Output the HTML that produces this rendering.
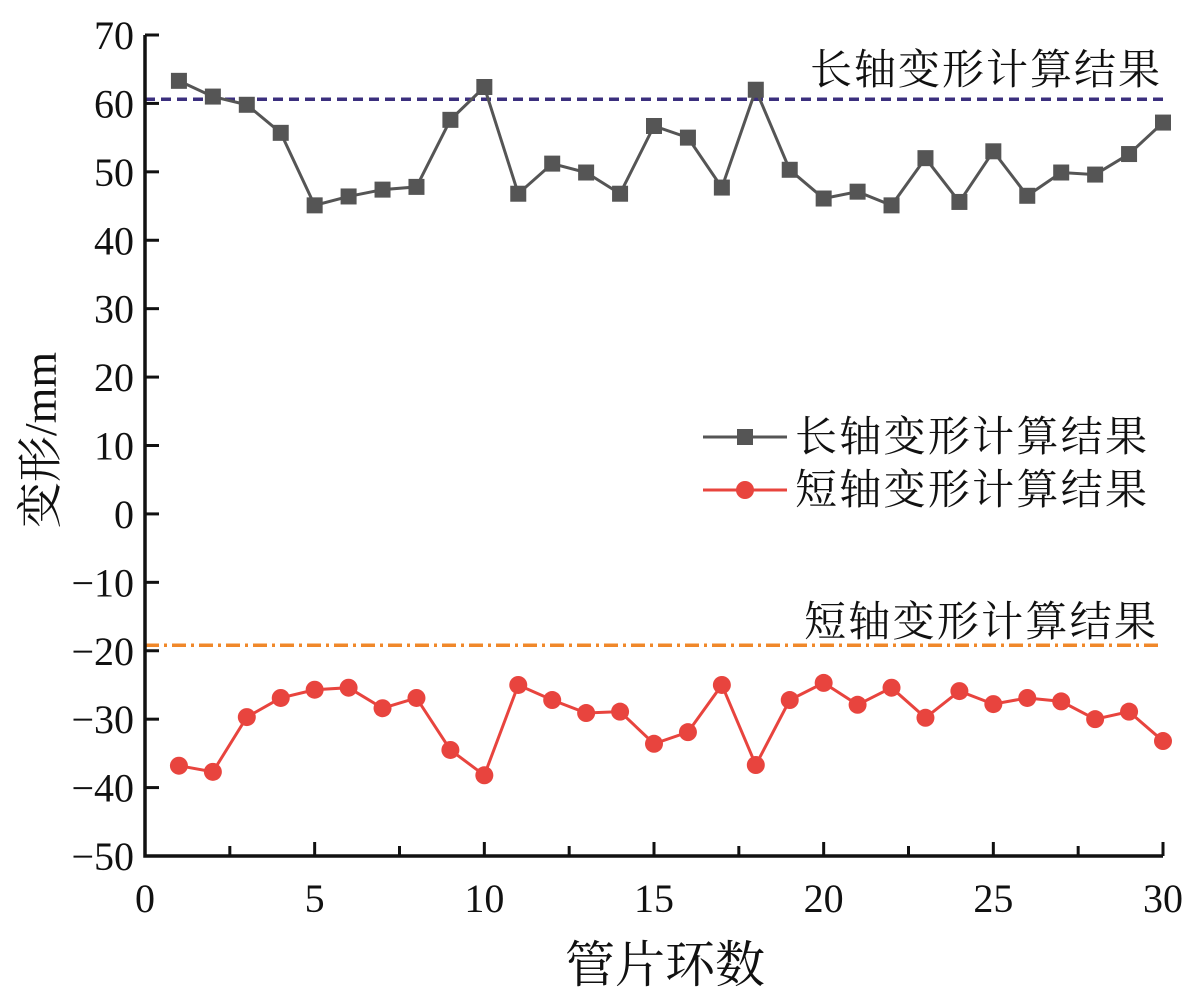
<!DOCTYPE html>
<html><head><meta charset="utf-8"><style>
body{margin:0;background:#fff;position:relative}
svg text{font-family:"Liberation Serif","Noto Serif CJK SC",serif;fill:#111}
</style></head><body>
<svg id="c" width="1199" height="999" viewBox="0 0 1199 999"></svg>
<script>
const rings=[1,2,3,4,5,6,7,8,9,10,11,12,13,14,15,16,17,18,19,20,21,22,23,24,25,26,27,28,29,30];
const longAxis=[63.3,61.0,59.8,55.7,45.1,46.4,47.4,47.8,57.6,62.4,46.8,51.2,49.9,46.8,56.7,55.0,47.7,62.0,50.3,46.1,47.1,45.1,52.0,45.6,53.0,46.5,49.9,49.6,52.6,57.2];
const shortAxis=[-36.8,-37.7,-29.7,-26.9,-25.7,-25.4,-28.4,-26.9,-34.5,-38.2,-25.0,-27.2,-29.1,-28.9,-33.6,-31.9,-25.0,-36.7,-27.2,-24.7,-27.9,-25.4,-29.8,-25.9,-27.8,-26.9,-27.4,-30.0,-28.9,-33.2];
const longRef=60.6, shortRef=-19.2;
const yTicks=[70,60,50,40,30,20,10,0,-10,-20,-30,-40,-50];
const xTicks=[0,5,10,15,20,25,30];
const X0=145,X1=1163,Y0=856,Y1=35;
const sx=v=>X0+(v-0)/(30-0)*(X1-X0);
const sy=v=>Y0-(v+50)/120*(Y0-Y1);
const svg=document.getElementById('c');
const NS='http://www.w3.org/2000/svg';
function mk(t,a,p){const e=document.createElementNS(NS,t);for(const k in a)e.setAttribute(k,a[k]);(p||svg).appendChild(e);return e;}
let e=mk('line',{x1:X0,x2:X1,y1:sy(longRef),y2:sy(longRef),stroke:'#3b2f7e','stroke-width':3.5,'stroke-dasharray':'10,6'});


e=mk('line',{x1:X0,x2:X1,y1:sy(shortRef),y2:sy(shortRef),stroke:'#f0882a','stroke-width':3.5,'stroke-dasharray':'14,5,3,5'});


e=mk('path',{d:`M${X0} ${Y1}V${Y0}H${X1}`,fill:'none',stroke:'#111','stroke-width':3.5});


yTicks.forEach(v=>{mk('line',{x1:X0,x2:X0+14,y1:sy(v),y2:sy(v),stroke:'#111','stroke-width':3});
 const t=mk('text',{x:134,y:sy(v)+14,'text-anchor':'end','font-size':40});t.textContent=v<0?'\u2212'+(-v):v;
 
 });
for(let v=0;v<=30;v+=2.5){const maj=v%5===0;mk('line',{x1:sx(v),x2:sx(v),y1:Y0,y2:Y0-(maj?14:10),stroke:'#111','stroke-width':3});}
xTicks.forEach(v=>{const t=mk('text',{x:sx(v),y:912,'text-anchor':'middle','font-size':40});t.textContent=v;
 
 });
e=mk('polyline',{points:rings.map((r,i)=>sx(r)+','+sy(longAxis[i])).join(' '),fill:'none',stroke:'#555','stroke-width':3});


rings.forEach((r,i)=>{const m=mk('rect',{x:sx(r)-8,y:sy(longAxis[i])-8,width:16,height:16,fill:'#555'});
 
 });
e=mk('polyline',{points:rings.map((r,i)=>sx(r)+','+sy(shortAxis[i])).join(' '),fill:'none',stroke:'#e8443e','stroke-width':3});


rings.forEach((r,i)=>{const m=mk('circle',{cx:sx(r),cy:sy(shortAxis[i]),r:9,fill:'#e8443e'});
 
 });
</script>
<svg width="1199" height="999" style="position:absolute;left:0;top:0">
<text x="1160" y="84" text-anchor="end" font-size="42" textLength="350">长轴变形计算结果</text>
<text x="1156" y="636" text-anchor="end" font-size="42" textLength="352">短轴变形计算结果</text>
<g>
<line x1="703" x2="787" y1="437" y2="437" stroke="#555" stroke-width="3"/><rect x="737" y="429" width="16" height="16" fill="#555"/>
<text x="795" y="451" font-size="42" textLength="352">长轴变形计算结果</text>
<line x1="703" x2="787" y1="490" y2="490" stroke="#e8443e" stroke-width="3"/><circle cx="745" cy="490" r="9" fill="#e8443e"/>
<text x="795" y="504" font-size="42" textLength="352">短轴变形计算结果</text>
</g>
<text x="665" y="982" text-anchor="middle" font-size="50">管片环数</text>
<text transform="translate(56,440) rotate(-90)" text-anchor="middle" font-size="46">变形/mm</text>
</svg>
</body></html>
